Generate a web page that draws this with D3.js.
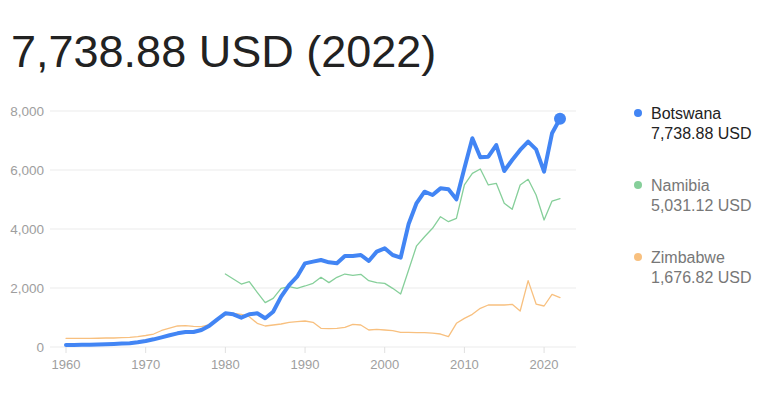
<!DOCTYPE html>
<html lang="en">
<head>
    <meta charset="UTF-8">
    <title>GDP per capita</title>
    <script src="https://d3js.org/d3.v7.min.js"></script>
    <style>
        body { margin: 0; background: #fff; font-family: "Liberation Sans", Arial, sans-serif; }
        .grid line { stroke: #ebebeb; }
    </style>
</head>
<body>
<svg id="chart" width="781" height="409"></svg>

<script>
    // GDP per capita (current USD).
    const years = d3.range(1960, 2023);

    const botswana = [
        68, 72, 76, 80, 85, 95, 105, 115, 130, 160,
        203, 260, 328, 400, 463, 508, 508, 576, 723, 938,
        1142, 1108, 994, 1110, 1142, 975, 1197, 1706, 2101, 2384,
        2836, 2893, 2949, 2870, 2836, 3085, 3085, 3119, 2915, 3232,
        3345, 3119, 3028, 4170, 4880, 5265, 5152, 5378, 5344, 5006,
        6057, 7075, 6430, 6450, 6847, 5966, 6339, 6680, 6960, 6700,
        5943, 7244, 7738.88
    ];

    // Namibia starts in 1980
    const namibia = [
        null, null, null, null, null, null, null, null, null, null,
        null, null, null, null, null, null, null, null, null, null,
        2474, 2305, 2135, 2214, 1853, 1503, 1650, 1989, 2045, 1989,
        2068, 2158, 2362, 2181, 2362, 2474, 2430, 2463, 2249, 2181,
        2158, 1989, 1797, 2610, 3430, 3739, 4023, 4417, 4247, 4362,
        5492, 5888, 6034, 5492, 5548, 4870, 4667, 5492, 5684, 5152,
        4305, 4949, 5031.12
    ];

    const zimbabwe = [
        293, 293, 290, 292, 296, 305, 305, 315, 325, 350,
        390, 440, 560, 640, 712, 723, 700, 689, 760, 938,
        1085, 1142, 1108, 1028, 802, 712, 746, 780, 836, 858,
        881, 836, 633, 622, 633, 667, 768, 746, 576, 599,
        576, 554, 497, 497, 490, 490, 470, 440, 350, 803,
        972, 1108, 1311, 1423, 1423, 1423, 1446, 1220, 2249, 1457,
        1390, 1785, 1676.82
    ];

    const yTicks = [0, 2000, 4000, 6000, 8000];
    const xTicks = [1960, 1970, 1980, 1990, 2000, 2010, 2020];

    const series = [
        {name: "Botswana", values: botswana, color: "#4285f4", width: 4, label: "7,738.88 USD", text: "#222"},
        {name: "Namibia", values: namibia, color: "#86cf9a", width: 1.3, label: "5,031.12 USD", text: "#777"},
        {name: "Zimbabwe", values: zimbabwe, color: "#f8c07f", width: 1.3, label: "1,676.82 USD", text: "#777"}
    ];

    const svg = d3.select("#chart");

    // Headline value
    svg.append("text")
        .attr("x", 11)
        .attr("y", 67)
        .attr("font-size", 45)
        .attr("fill", "#222")
        .text("7,738.88 USD (2022)");

    const x = d3.scaleLinear().domain([1960, 2022]).range([66, 560]);
    const y = d3.scaleLinear().domain([0, 8000]).range([347, 111]);

    // Horizontal grid lines + y labels
    const grid = svg.append("g").attr("class", "grid");
    grid.selectAll("line")
        .data(yTicks)
        .enter().append("line")
        .attr("x1", 50).attr("x2", 576)
        .attr("y1", d => y(d)).attr("y2", d => y(d))
        .attr("stroke", d => d === 0 ? "#e0e0e0" : "#ebebeb");

    svg.append("g").selectAll("text")
        .data(yTicks)
        .enter().append("text")
        .attr("x", 44)
        .attr("y", d => y(d) + 5)
        .attr("text-anchor", "end")
        .attr("font-size", 13.5)
        .attr("fill", "#9e9e9e")
        .text(d => d3.format(",")(d));

    // x axis ticks and labels
    const xAxis = svg.append("g");
    xAxis.selectAll("line")
        .data(xTicks)
        .enter().append("line")
        .attr("x1", d => x(d)).attr("x2", d => x(d))
        .attr("y1", 347).attr("y2", 353)
        .attr("stroke", "#e0e0e0");
    xAxis.selectAll("text")
        .data(xTicks)
        .enter().append("text")
        .attr("x", d => x(d))
        .attr("y", 369)
        .attr("text-anchor", "middle")
        .attr("font-size", 13)
        .attr("fill", "#9e9e9e")
        .text(d => d);

    const line = d3.line()
        .defined(d => d[1] != null)
        .x(d => x(d[0]))
        .y(d => y(d[1]));

    // Draw thin lines first so Botswana sits on top
    svg.append("g").selectAll("path")
        .data(series.slice().reverse())
        .enter().append("path")
        .attr("fill", "none")
        .attr("stroke", d => d.color)
        .attr("stroke-width", d => d.width)
        .attr("stroke-linejoin", "round")
        .attr("stroke-linecap", "round")
        .attr("d", d => line(years.map((yr, i) => [yr, d.values[i]])));

    // End point on the highlighted series
    svg.append("circle")
        .attr("cx", x(2022))
        .attr("cy", y(botswana[botswana.length - 1]))
        .attr("r", 6)
        .attr("fill", "#4285f4");

    // Legend
    const legend = svg.append("g").selectAll("g")
        .data(series)
        .enter().append("g")
        .attr("transform", (d, i) => `translate(638, ${113 + i * 72})`);
    legend.append("circle")
        .attr("r", 4)
        .attr("fill", d => d.color);
    legend.append("text")
        .attr("x", 13).attr("y", 6)
        .attr("font-size", 16)
        .attr("fill", d => d.text)
        .text(d => d.name);
    legend.append("text")
        .attr("x", 13).attr("y", 26)
        .attr("font-size", 16)
        .attr("fill", d => d.text)
        .text(d => d.label);
</script>
</body>
</html>
